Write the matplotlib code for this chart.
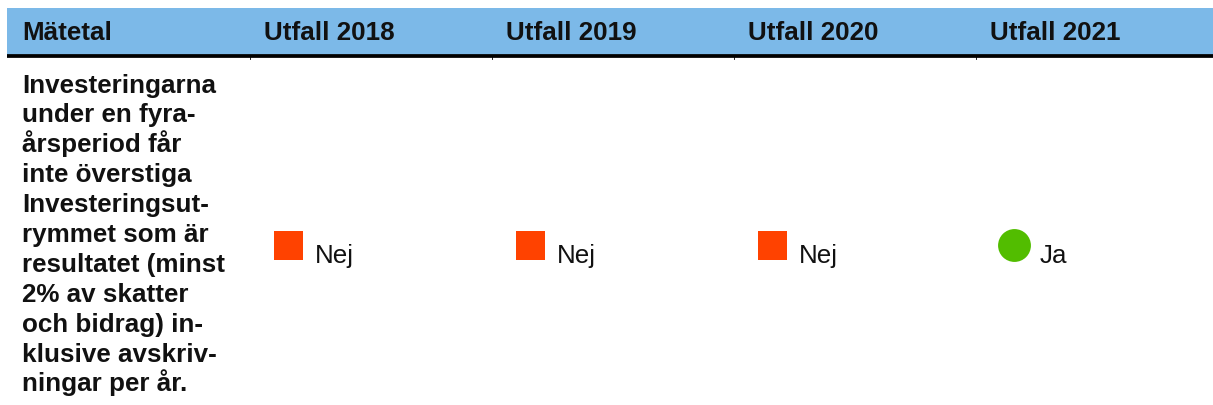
import matplotlib
matplotlib.use('Agg')
import matplotlib.pyplot as plt
from matplotlib.patches import Rectangle

plt.rcParams['font.family'] = ['Liberation Sans', 'DejaVu Sans']

headers = ['Mätetal', 'Utfall 2018', 'Utfall 2019', 'Utfall 2020', 'Utfall 2021']
metric_lines = ['Investeringarna', 'under en fyra-', 'årsperiod får', 'inte överstiga',
                'Investeringsut-', 'rymmet som är', 'resultatet (minst', '2% av skatter',
                'och bidrag) in-', 'klusive avskriv-', 'ningar per år.']
outcomes = ['Nej', 'Nej', 'Nej', 'Ja']
outcome_style = {'Nej': ('s', '#ff4200', 437), 'Ja': ('o', '#52bd00', 560)}

W, H = 1213, 405
fig = plt.figure(figsize=(W / 100, H / 100), dpi=100)
ax = fig.add_axes([0, 0, 1, 1])
ax.set_xlim(0, W)
ax.set_ylim(H, 0)
ax.axis('off')

col_x0 = 8
col_w = 242
FS = 18.7

# header band + rule
ax.add_patch(Rectangle((7, 7.5), W - 7, 47, color='#7cb9e8', lw=0))
ax.plot([7, W], [56, 56], color='black', lw=2.7, solid_capstyle='butt')
for i in range(1, len(headers)):
    xb = col_x0 + i * col_w
    ax.plot([xb, xb], [56, 59], color='black', lw=0.6)

for i, h in enumerate(headers):
    ax.text(col_x0 + i * col_w + 14, 40.5, h, fontsize=FS, fontweight='bold',
            va='baseline', ha='left', color='#111111')

# metric text
for j, line in enumerate(metric_lines):
    ax.text(22, 92.5 + j * 29.9, line, fontsize=FS, fontweight='bold',
            va='baseline', ha='left', color='#111111')

# outcome markers
for i, val in enumerate(outcomes):
    m, c, s = outcome_style[val]
    x0 = col_x0 + (i + 1) * col_w
    mx = x0 + 38.5
    ax.scatter([mx], [245.5], marker=m, s=s, color=c, edgecolors='none')
    tx = x0 + 65 if m == 's' else x0 + 64
    ax.text(tx, 263, val, fontsize=FS, va='baseline', ha='left', color='#111111')

fig.savefig('out.png', dpi=100)
